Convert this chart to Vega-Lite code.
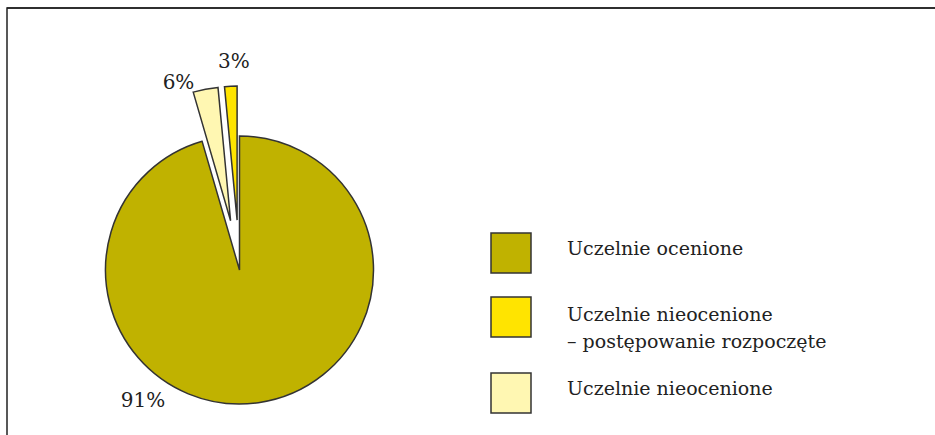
{
  "$schema": "https://vega.github.io/schema/vega-lite/v6.json",
  "width": 935,
  "height": 435,
  "autosize": {"type": "none"},
  "padding": {"left": 7, "top": 8, "right": -7, "bottom": -8},
  "background": "white",
  "config": {
    "view": {"stroke": "#222222", "strokeWidth": 1.5},
    "font": "DejaVu Serif",
    "legend": {
      "orient": "none",
      "legendX": 483,
      "legendY": 224,
      "padding": 0,
      "title": null,
      "symbolType": "square",
      "symbolSize": 1600,
      "symbolStrokeColor": "#333333",
      "symbolStrokeWidth": 1.5,
      "symbolOpacity": 1,
      "labelFont": "DejaVu Serif",
      "labelFontSize": 19,
      "labelColor": "#222222",
      "labelOffset": 35,
      "labelLimit": 500,
      "rowPadding": 18
    }
  },
  "data": {
    "values": [
      {"cat": "Uczelnie ocenione", "share": 95.5, "label": "91%"},
      {"cat": "Uczelnie nieocenione", "share": 3.0, "label": "6%"},
      {"cat": "Uczelnie nieocenione – postępowanie rozpoczęte", "share": 1.5, "label": "3%"}
    ]
  },
  "transform": [
    {"stack": "share", "groupby": [], "as": ["start", "end"], "sort": [{"field": "share", "order": "descending"}]}
  ],
  "layer": [
    {
      "transform": [{"filter": "datum.cat == 'Uczelnie ocenione'"}],
      "mark": {"type": "arc", "radius": 134, "stroke": "#333333", "strokeWidth": 1.5, "xOffset": -235, "yOffset": 44.5},
      "encoding": {
        "theta": {"field": "start", "type": "quantitative", "scale": {"domain": [0, 100]}},
        "theta2": {"field": "end"},
        "color": {
          "field": "cat", "type": "nominal",
          "scale": {"domain": ["Uczelnie ocenione", "Uczelnie nieocenione – postępowanie rozpoczęte", "Uczelnie nieocenione"], "range": ["#C0B200", "#FFE400", "#FFF7B2"]},
          "legend": {
            "labelExpr": "indexof(datum.label, ' – ') > 0 ? [slice(datum.label, 0, indexof(datum.label, ' – ')), slice(datum.label, indexof(datum.label, ' – ') + 1)] : datum.label",
            "encode": {"labels": {"update": {"lineHeight": {"value": 27}, "dy": {"signal": "indexof(datum.label, ' – ') > 0 ? -2 : -4"}}}}
          }
        }
      }
    },
    {
      "transform": [{"filter": "datum.cat == 'Uczelnie nieocenione'"}],
      "mark": {"type": "arc", "radius": 134, "stroke": "#333333", "strokeWidth": 1.5, "xOffset": -243.9, "yOffset": -4.7},
      "encoding": {
        "theta": {"field": "start", "type": "quantitative"},
        "theta2": {"field": "end"},
        "color": {"field": "cat", "type": "nominal"}
      }
    },
    {
      "transform": [{"filter": "datum.cat == 'Uczelnie nieocenione – postępowanie rozpoczęte'"}],
      "mark": {"type": "arc", "radius": 134, "stroke": "#333333", "strokeWidth": 1.5, "xOffset": -237.4, "yOffset": -5.4},
      "encoding": {
        "theta": {"field": "start", "type": "quantitative"},
        "theta2": {"field": "end"},
        "color": {"field": "cat", "type": "nominal"}
      }
    },
    {
      "transform": [{"filter": "datum.cat == 'Uczelnie ocenione'"}],
      "mark": {"type": "text", "radius": 0, "fontSize": 20, "color": "#222222", "xOffset": -235, "yOffset": 44.5, "dx": -96.5, "dy": 131},
      "encoding": {
        "theta": {"field": "start", "type": "quantitative"},
        "text": {"field": "label"}
      }
    },
    {
      "transform": [{"filter": "datum.cat == 'Uczelnie nieocenione'"}],
      "mark": {"type": "text", "radius": 147, "fontSize": 20, "color": "#222222", "xOffset": -243.9, "yOffset": -4.7, "dx": -11.1, "dy": 3.3},
      "encoding": {
        "theta": {"field": "start", "type": "quantitative"},
        "text": {"field": "label"}
      }
    },
    {
      "transform": [{"filter": "datum.cat == 'Uczelnie nieocenione – postępowanie rozpoczęte'"}],
      "mark": {"type": "text", "radius": 157.6, "fontSize": 20, "color": "#222222", "xOffset": -237.4, "yOffset": -5.4, "dx": 11.7, "dy": -0.7},
      "encoding": {
        "theta": {"field": "start", "type": "quantitative"},
        "text": {"field": "label"}
      }
    },
    {
      "data": {"values": [{"edge": "top"}]},
      "mark": {"type": "rule", "color": "#222222", "strokeWidth": 1.5},
      "encoding": {"y": {"value": 0}}
    }
  ]
}
